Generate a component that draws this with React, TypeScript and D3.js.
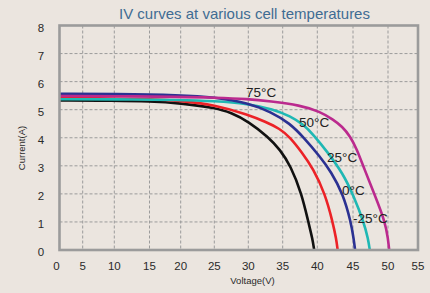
import React from 'react';
import * as d3 from 'd3';

const width = 430;
const height = 293;

// axis ticks
const xTicks = [0, 5, 10, 15, 20, 25, 30, 35, 40, 45, 50, 55];
const yTicks = [0, 1, 2, 3, 4, 5, 6, 7, 8];

// IV curves (voltage V, current A)
const blackV = [0, 10, 15, 20, 25, 27.5, 30, 32.9, 34.6, 36.15, 37.75, 38.7, 39.3, 39.55];
const blackI = [5.33, 5.32, 5.3, 5.23, 5.07, 4.9, 4.58, 4.03, 3.58, 3.0, 2.0, 1.0, 0.4, 0];

const redV = [0, 10, 15, 20, 25, 30, 32.5, 34.6, 36.05, 37.8, 39.4, 41.1, 42.15, 42.65, 42.85];
const redI = [5.41, 5.4, 5.38, 5.32, 5.18, 4.82, 4.57, 4.32, 4.02, 3.47, 2.9, 2.0, 1.0, 0.4, 0];

const tealV = [0, 10, 20, 25, 30, 33.6, 36.1, 38, 39.4, 41.5, 43.6, 45.05, 46.6, 47.15, 47.4];
const tealI = [5.37, 5.37, 5.35, 5.31, 5.21, 5.02, 4.77, 4.47, 4.12, 3.47, 2.72, 1.95, 0.95, 0.4, 0];

const blueV = [0, 10, 20, 25, 30, 33.3, 36, 38, 40.4, 41.9, 43.6, 44.7, 45.1, 45.3];
const blueI = [5.57, 5.56, 5.52, 5.45, 5.24, 4.92, 4.52, 4.02, 3.32, 2.8, 2.0, 1.0, 0.4, 0];

const magentaV = [0, 10, 20, 25, 30, 33.15, 37.5, 40.4, 42.2, 43.5, 44.6, 45.5, 46.6, 48.1, 49.6, 50.0, 50.2];
const magentaI = [5.49, 5.48, 5.46, 5.43, 5.38, 5.3, 5.16, 4.93, 4.65, 4.4, 4.05, 3.62, 2.9, 1.96, 1.0, 0.4, 0];

// temperature annotations (anchored in data units)
const tempLabels = ['75°C', '50°C', '25°C', '0°C', '-25°C'];
const tempLabelV = [29.66, 37.36, 41.36, 43.46, 45.0];
const tempLabelI = [5.46, 4.39, 3.15, 1.96, 0.95];

const series = [
  { v: blackV, i: blackI, color: '#111111' },
  { v: redV, i: redI, color: '#ec2227' },
  { v: tealV, i: tealI, color: '#1fb8b4' },
  { v: blueV, i: blueI, color: '#2b3192' },
  { v: magentaV, i: magentaI, color: '#bb2a8e' },
];

// the source axis is not evenly spaced, so map each tick to where it sits
const xScale = d3
  .scaleLinear()
  .domain(xTicks)
  .range([59.5, 82.7, 114.3, 149.5, 180.7, 214.3, 248.3, 282.7, 317.3, 353, 388, 418]);
const yScale = d3.scaleLinear().domain([0, 8]).range([250, 25.5]);

const gridColor = '#9b9b9b';
const bg = '#ebe5df';

export default function App() {
  const line = (v: number[], cur: number[]) =>
    d3
      .line<number>()
      .x((_, k) => xScale(v[k]))
      .y((d) => yScale(d))
      .curve(d3.curveBasis)(cur) || '';

  const [x0, x1] = [xScale(0), xScale(55)];
  const [y0, y1] = [yScale(0), yScale(8)];

  return (
    <svg
      width={width}
      height={height}
      style={{ position: 'absolute', left: 0, top: 0, fontFamily: 'Liberation Sans, Arial, sans-serif' }}
    >
      <rect width={width} height={height} fill={bg} />
      <text x={244.5} y={19} textAnchor="middle" fontSize={15} fill="#3f6c93">
        IV curves at various cell temperatures
      </text>

      {/* grid */}
      {xTicks.slice(1, -1).map((t) => (
        <line
          key={'gx' + t}
          x1={xScale(t)}
          x2={xScale(t)}
          y1={y1}
          y2={y0}
          stroke={gridColor}
          strokeWidth={1}
          strokeDasharray="3,2"
        />
      ))}
      {yTicks.slice(1, -1).map((t) => (
        <line
          key={'gy' + t}
          x1={x0}
          x2={x1}
          y1={yScale(t)}
          y2={yScale(t)}
          stroke={gridColor}
          strokeWidth={1}
          strokeDasharray="3,2"
        />
      ))}

      {/* curves */}
      {series.map((s, k) => (
        <path key={k} d={line(s.v, s.i)} fill="none" stroke={s.color} strokeWidth={2.6} />
      ))}

      <rect x={x0} y={y1} width={x1 - x0} height={y0 - y1} fill="none" stroke={gridColor} strokeWidth={2.6} />

      {/* tick labels */}
      {xTicks.map((t) => (
        <text key={'tx' + t} x={xScale(t) + (t === 0 ? -3 : 0)} y={270} textAnchor="middle" fontSize={11.5} fill="#2a2a2a">
          {t}
        </text>
      ))}
      {yTicks.map((t) => (
        <text key={'ty' + t} x={41} y={yScale(t) + 2} dy="0.35em" textAnchor="middle" fontSize={11.5} fill="#2a2a2a">
          {t}
        </text>
      ))}

      <text x={252.5} y={284} textAnchor="middle" fontSize={9.5} fill="#2a2a2a">
        Voltage(V)
      </text>
      <text
        transform={`translate(24.5, 148) rotate(-90)`}
        textAnchor="middle"
        fontSize={9.5}
        fill="#2a2a2a"
      >
        Current(A)
      </text>

      {tempLabels.map((l, k) => (
        <text key={l} x={xScale(tempLabelV[k])} y={yScale(tempLabelI[k])} fontSize={13.5} fill="#222">
          {l}
        </text>
      ))}
    </svg>
  );
}
